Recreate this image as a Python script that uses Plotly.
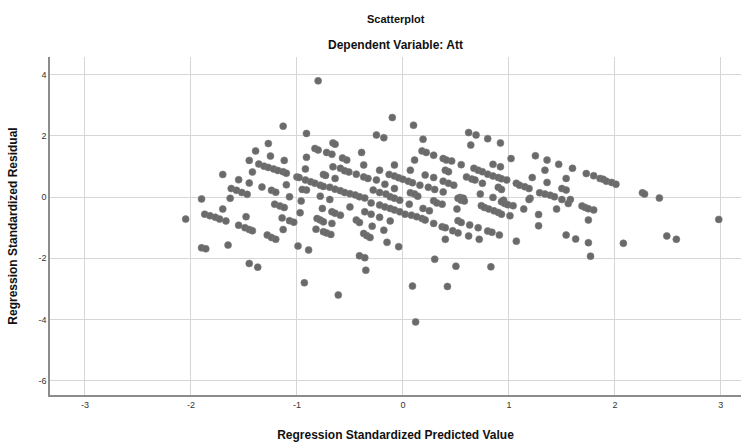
import plotly.graph_objects as go

# Regression standardized predicted values (x) and standardized residuals (y)
pred = [
    -1.13, -0.91, -1.27, -1.39, -1.25, -1.45, -1.12, -0.91, -1.36, -1.31,
    -1.27, -1.22, -1.18, -1.13, -1.10, -1.42, -1.70, -0.92, -1.00, -0.98,
    -1.55, -1.45, -1.10, -1.33, -1.24, -1.20, -1.62, -1.57, -1.52, -1.47,
    -0.91, -1.07, -1.90, -1.63,
    -0.80, -0.10, 0.10, -0.25, -0.18, 0.19, -0.66, -0.64, -0.83, -0.80,
    -0.72, -0.67, -0.39, 0.18, 0.22, 0.29, -0.57, -0.53, 0.11, -0.37,
    -0.66, -0.08, -0.59, -0.55, -0.51, -0.22, 0.07, -0.75, -0.73, -0.44,
    -0.37, -0.33, -0.13, -0.08, -0.04, 0.00, 0.05, 0.09, 0.21, 0.29,
    -0.64, -0.92, -0.87, -0.83, -0.78, -0.75, -0.25, -0.17, 0.16, 0.24,
    -0.69, -0.64, -0.59, -0.55, -0.50, -0.45, -0.41, -0.36, -0.95, -0.28,
    -0.22, -0.16, -0.08, 0.07, 0.11, -0.78, 0.14,
    0.62, 0.69, 0.64, 0.80, 0.92, 0.38, 0.41, 0.46, 1.02, 1.25,
    1.36, 1.47, 0.55, 0.85, 0.92, 0.40, 0.43, 0.67, 0.71, 0.75,
    1.34, 0.60, 0.65, 0.68, 0.80, 0.85, 0.90, 0.93, 0.98, 1.22,
    0.38, 0.43, 0.48, 0.75, 1.36, 1.54, 1.07, 1.10, 1.15, 1.19,
    0.30, 0.90, 0.93, 0.38, 1.29, 1.34, 1.39, 1.43, 1.50, 1.54,
    0.73, 0.54, 0.57, 0.85, 1.20, 0.95,
    1.60, 1.73, 1.80, 1.86, 1.89, 1.92, 1.97, 2.01, 2.26, 2.28,
    2.42, 1.58,
    -0.96, -1.70, -1.21, -1.16, -1.12, -2.05, -1.87, -1.82, -1.77, -1.73,
    -1.67, -1.48, -1.14, -1.07, -1.03, -0.97, -1.55, -1.49, -1.45, -1.42,
    -1.13, -1.28, -1.24, -1.20, -0.99, -0.89, -1.90, -1.86, -1.65, -1.45,
    -1.37, -0.93,
    -0.69, -0.30, -0.12, -0.08, -0.03, -0.76, -0.67, -0.64, -0.59, -0.50,
    -0.36, -0.30, -0.22, -0.17, -0.12, -0.08, -0.03, 0.02, 0.06, 0.08,
    0.13, 0.18, 0.21, 0.19, 0.25, 0.29, -0.22, -0.12, -0.81, -0.78,
    -0.75, -0.67, -0.44, -0.41, -0.29, -0.82, -0.75, -0.72, -0.68, -0.18,
    -0.37, -0.34, -0.31, -0.15, -0.04, -0.41, -0.36, -0.35, 0.30, 0.09,
    -0.61, 0.12,
    0.29, 0.32, 0.37, 0.52, 0.55, 0.58, 0.93, 0.96, 0.99, 1.04,
    0.74, 0.77, 0.81, 0.86, 0.90, 0.93, 1.01, 1.14, 1.19, 1.50,
    1.28, 1.45, 1.56, 0.51, 0.37, 0.40, 0.52, 0.55, 0.63, 0.71,
    0.47, 0.52, 0.80, 0.84, 0.91, 0.62, 0.40, 0.72, 1.07, 1.28,
    1.54, 0.50, 0.83, 0.42,
    1.69, 1.72, 1.75, 1.80, 1.75, 1.63, 1.75, 1.77, 2.08, 2.49,
    2.58, 2.98,
]

resid = [
    2.32, 2.08, 1.75, 1.51, 1.34, 1.20, 1.20, 1.30, 1.08, 1.01,
    0.97, 0.92, 0.87, 0.83, 0.78, 0.82, 0.74, 0.92, 0.66, 0.64,
    0.57, 0.46, 0.40, 0.33, 0.22, 0.16, 0.28, 0.22, 0.15, 0.09,
    0.23, 0.01, -0.06, -0.04,
    3.80, 2.60, 2.35, 2.03, 1.94, 1.89, 1.77, 1.73, 1.59, 1.54,
    1.46, 1.40, 1.46, 1.51, 1.46, 1.37, 1.28, 1.21, 1.21, 1.05,
    0.99, 1.05, 0.94, 0.86, 0.82, 0.88, 0.88, 0.74, 0.71, 0.75,
    0.66, 0.61, 0.74, 0.69, 0.63, 0.58, 0.52, 0.47, 0.72, 0.64,
    0.61, 0.56, 0.50, 0.45, 0.39, 0.35, 0.56, 0.42, 0.39, 0.32,
    0.32, 0.26, 0.21, 0.15, 0.11, 0.07, 0.01, -0.03, 0.25, 0.23,
    0.15, 0.10, 0.28, 0.14, 0.10, 0.03, 0.03,
    2.11, 2.03, 1.70, 1.91, 1.77, 1.26, 1.21, 1.18, 1.26, 1.35,
    1.21, 1.07, 1.06, 1.07, 0.99, 0.88, 0.83, 0.94, 0.88, 0.83,
    0.88, 0.66, 0.59, 0.56, 0.75, 0.69, 0.64, 0.60, 0.56, 0.64,
    0.52, 0.45, 0.39, 0.45, 0.48, 0.61, 0.45, 0.39, 0.34, 0.28,
    0.25, 0.32, 0.25, 0.17, 0.14, 0.10, 0.06, 0.01, 0.28, 0.23,
    0.10, -0.01, -0.04, -0.01, -0.04, -0.10,
    0.94, 0.77, 0.70, 0.61, 0.58, 0.52, 0.48, 0.42, 0.14, 0.10,
    -0.03, -0.08,
    -0.13, -0.39, -0.23, -0.29, -0.34, -0.72, -0.56, -0.61, -0.66, -0.72,
    -0.78, -0.64, -0.68, -0.77, -0.82, -0.51, -0.92, -1.00, -1.06, -1.10,
    -1.06, -1.24, -1.32, -1.38, -1.60, -1.73, -1.66, -1.69, -1.57, -2.17,
    -2.29, -2.80,
    -0.08, -0.19, 0.01, -0.04, -0.10, -0.37, -0.48, -0.53, -0.59, -0.32,
    -0.48, -0.56, -0.26, -0.32, -0.37, -0.42, -0.48, -0.56, -0.23, -0.59,
    -0.64, -0.70, -0.75, -0.37, -0.45, -0.86, -0.66, -0.78, -0.70, -0.75,
    -0.81, -0.86, -0.75, -0.83, -0.95, -1.05, -1.13, -1.17, -1.22, -1.08,
    -1.19, -1.26, -1.32, -1.48, -1.62, -1.92, -1.98, -2.39, -2.03, -2.91,
    -3.20, -4.08,
    -0.12, -0.19, -0.23, -0.04, -0.10, -0.13, -0.15, -0.21, -0.25, -0.28,
    -0.28, -0.34, -0.39, -0.45, -0.50, -0.56, -0.61, -0.39, -0.08, -0.08,
    -0.57, -0.39, -0.21, -0.39, -0.97, -1.00, -0.77, -0.83, -0.91, -1.00,
    -1.10, -1.17, -1.11, -1.15, -1.24, -1.27, -1.38, -1.38, -1.44, -0.94,
    -1.24, -2.26, -2.28, -2.92,
    -0.29, -0.34, -0.38, -0.42, -0.75, -1.37, -1.49, -1.93, -1.51, -1.27,
    -1.38, -0.73,
]

x_ticks = [-3, -2, -1, 0, 1, 2, 3]
y_ticks = [-6, -4, -2, 0, 2, 4]

FONT = "Liberation Sans, Arial, sans-serif"

fig = go.Figure(
    go.Scatter(
        x=pred,
        y=resid,
        mode="markers",
        marker=dict(size=7, color="#6a6a6a",
                    line=dict(width=0.6, color="#7a7a7a")),
        showlegend=False,
        hoverinfo="x+y",
    )
)

axis_common = dict(
    showgrid=True,
    gridcolor="#d6d6d6",
    gridwidth=1,
    zeroline=False,
    showline=True,
    linecolor="#8c8c8c",
    linewidth=1.5,
    mirror=False,
    ticks="",
    tickfont=dict(family=FONT, size=9, color="#333333"),
)

fig.update_xaxes(
    range=[-3.33, 3.19],
    tickmode="array",
    tickvals=x_ticks,
    ticktext=[str(v) for v in x_ticks],
    title=dict(text="<b>Regression Standardized Predicted Value</b>",
               font=dict(family=FONT, size=12, color="#111111"),
               standoff=22),
    **axis_common,
)
fig.update_yaxes(
    range=[-6.47, 4.58],
    tickmode="array",
    tickvals=y_ticks,
    ticktext=[str(v) for v in y_ticks],
    title=dict(text="<b>Regression Standardized Residual</b>",
               font=dict(family=FONT, size=12, color="#111111"),
               standoff=18),
    **axis_common,
)

fig.add_annotation(text="<b>Scatterplot</b>", xref="paper", yref="paper",
                   x=0.5, y=1, yanchor="middle", yshift=38, showarrow=False,
                   font=dict(family=FONT, size=11, color="#111111"))
fig.add_annotation(text="<b>Dependent Variable: Att</b>", xref="paper", yref="paper",
                   x=0.5, y=1, yanchor="middle", yshift=12, showarrow=False,
                   font=dict(family=FONT, size=12, color="#111111"))

fig.update_layout(
    width=745,
    height=448,
    margin=dict(l=50, r=4, t=57, b=53),
    paper_bgcolor="white",
    plot_bgcolor="white",
)

fig.write_html("out.html")
